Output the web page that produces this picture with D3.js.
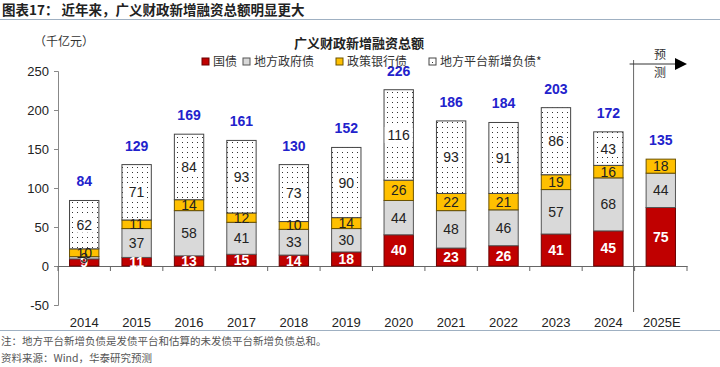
<!DOCTYPE html>
<html><head><meta charset="utf-8">
<script src="https://cdn.jsdelivr.net/npm/d3@7"></script>
<style>body{margin:0;background:#fff}svg{display:block;font-family:Arial,"Liberation Sans",sans-serif}</style>
</head><body>
<script>
const categories=["2014","2015","2016","2017","2018","2019","2020","2021","2022","2023","2024","2025E"];
const guozhai=[9,11,13,15,14,18,40,23,26,41,45,75];
const difangzhai=[3,37,58,41,33,30,44,48,46,57,68,44];
const zhengce=[10,11,14,12,10,14,26,22,21,19,16,18];
const pingtai=[62,71,84,93,73,90,116,93,91,86,43,0];
const totals=[84,129,169,161,130,152,226,186,184,203,172,135];
const yTicks=[-50,0,50,100,150,200,250];
const seriesNames=["国债","地方政府债","政策银行债","地方平台新增负债*"];

const W=720,H=367;
const svg=d3.select("body").append("svg").attr("width",W).attr("height",H);
const defs=svg.append("defs");
const pat=defs.append("pattern").attr("id","dots").attr("patternUnits","userSpaceOnUse").attr("width",5).attr("height",5);
pat.append("rect").attr("width",5).attr("height",5).attr("fill","#fff");
pat.append("rect").attr("x",2).attr("y",2).attr("width",1).attr("height",1).attr("fill","#333");

const CJK='"Noto Sans CJK SC",sans-serif';
// header
svg.append("text").attr("x",2).attr("y",15).attr("font-family",CJK).attr("font-weight","bold").attr("font-size",13.5).attr("fill","#222")
  .text("图表17：  近年来，广义财政新增融资总额明显更大");
svg.append("line").attr("x1",0).attr("x2",720).attr("y1",19.5).attr("y2",19.5).attr("stroke","#9fb0c2").attr("stroke-width",1);

const y=d3.scaleLinear().domain([-50,250]).range([305,71]);
const x=d3.scaleBand().domain(categories).range([58,687]).paddingInner(0.44).paddingOuter(0.22);

// unit
svg.append("text").attr("x",34).attr("y",46).attr("font-family",CJK).attr("font-size",12).attr("fill","#333").text("（千亿元）");
// chart title
svg.append("text").attr("x",359).attr("y",48).attr("text-anchor","middle").attr("font-family",CJK).attr("font-weight","bold").attr("font-size",13).attr("fill","#222").text("广义财政新增融资总额");

// y axis
const yAxis=svg.append("g").attr("transform","translate(58,0)").call(d3.axisLeft(y).tickValues(yTicks).tickSize(4).tickPadding(5).tickFormat(d=>String(d)));
yAxis.select(".domain").attr("stroke","#888");
yAxis.selectAll(".tick line").attr("stroke","#888");
yAxis.selectAll("text").attr("font-size",13).attr("fill","#222").attr("font-family","Arial,'Liberation Sans',sans-serif");

// x axis at zero
const xAxis=svg.append("g").attr("transform",`translate(0,${y(0)})`).call(d3.axisBottom(x).tickSize(0).tickFormat(""));
xAxis.select(".domain").attr("stroke","#666");
const step=x.step();
const bounds=d3.range(categories.length+1).map(i=>58+i*(629/categories.length));
svg.append("g").selectAll("line").data(bounds).join("line")
  .attr("x1",d=>d).attr("x2",d=>d).attr("y1",y(0)).attr("y2",y(0)+5).attr("stroke","#666");
svg.append("g").selectAll("text").data(categories).join("text")
  .attr("x",d=>x(d)+x.bandwidth()/2+(d==="2025E"?1:0)).attr("y",327).attr("text-anchor","middle")
  .attr("font-size",13).attr("fill","#222").text(d=>d);

// stacks
const rows=categories.map((c,i)=>({cat:c,g:guozhai[i],d:difangzhai[i],z:zhengce[i],p:pingtai[i]}));
const stack=d3.stack().keys(["g","d","z","p"])(rows);
const fills={g:"#C00000",d:"#D9D9D9",z:"#FFC000",p:"url(#dots)"};
const strokes={g:"#6b0000",d:"#555",z:"#6b5200",p:"#444"};
stack.forEach(layer=>{
  const k=layer.key;
  const gL=svg.append("g");
  layer.forEach((s,i)=>{
    const v=s[1]-s[0]; if(v<=0) return;
    gL.append("rect").attr("x",x(categories[i])).attr("width",x.bandwidth())
      .attr("y",y(s[1])).attr("height",y(s[0])-y(s[1]))
      .attr("fill",fills[k]).attr("stroke",strokes[k]).attr("stroke-width",1);
  });
});
// labels
stack.forEach(layer=>{
  const k=layer.key;
  layer.forEach((s,i)=>{
    const v=s[1]-s[0]; if(v<=0) return;
    const cx=x(categories[i])+x.bandwidth()/2, cy=(y(s[0])+y(s[1]))/2;
    if(k==="p"){
      svg.append("rect").attr("x",cx-(String(v).length*4+2)).attr("y",cy-8).attr("width",String(v).length*8+4).attr("height",16).attr("fill","#fff");
    }
    svg.append("text").attr("x",cx).attr("y",cy+5).attr("text-anchor","middle")
      .attr("font-size",14).attr("font-weight",k==="g"?"bold":"normal")
      .attr("fill",k==="g"?"#fff":"#222").text(v);
  });
});
// totals
svg.append("g").selectAll("text").data(categories).join("text")
  .attr("x",d=>x(d)+x.bandwidth()/2).attr("y",(d,i)=>y(stack[3][i][1])-14)
  .attr("text-anchor","middle").attr("font-size",14).attr("font-weight","bold").attr("fill","#2222CC")
  .text((d,i)=>totals[i]);

// legend
const legX=[202,243,336,429];
const legFill=["#C00000","#D9D9D9","#FFC000","url(#dots)"];
const legStroke=["#6b0000","#555","#6b5200","#444"];
seriesNames.forEach((n,i)=>{
  svg.append("rect").attr("x",legX[i]).attr("y",58).attr("width",7).attr("height",7).attr("fill",legFill[i]).attr("stroke",legStroke[i]);
  svg.append("text").attr("x",legX[i]+11).attr("y",66).attr("font-family",CJK).attr("font-size",12).attr("fill","#333").text(n);
});

// forecast separator & arrow
const sepX=x("2025E")-(step-x.bandwidth())/2-1;
svg.append("line").attr("x1",sepX).attr("x2",sepX).attr("y1",60).attr("y2",312).attr("stroke","#666");
svg.append("line").attr("x1",sepX-4).attr("x2",676).attr("y1",64).attr("y2",64).attr("stroke","#333");
svg.append("path").attr("d","M675,58L687,64L675,70Z").attr("fill","#000");
svg.append("text").attr("x",660).attr("y",59).attr("text-anchor","middle").attr("font-family",CJK).attr("font-size",12).attr("fill","#333").text("预");
svg.append("text").attr("x",660).attr("y",77).attr("text-anchor","middle").attr("font-family",CJK).attr("font-size",12).attr("fill","#333").text("测");

// bottom rule & notes
svg.append("line").attr("x1",0).attr("x2",720).attr("y1",330.5).attr("y2",330.5).attr("stroke","#9fb0c2");
svg.append("text").attr("x",1).attr("y",345).attr("font-family",CJK).attr("font-size",10.5).attr("fill","#555").text("注：地方平台新增负债是发债平台和估算的未发债平台新增负债总和。");
svg.append("text").attr("x",1).attr("y",362).attr("font-family",CJK).attr("font-size",10.5).attr("fill","#555").text("资料来源：Wind，华泰研究预测");
</script>
</body></html>
